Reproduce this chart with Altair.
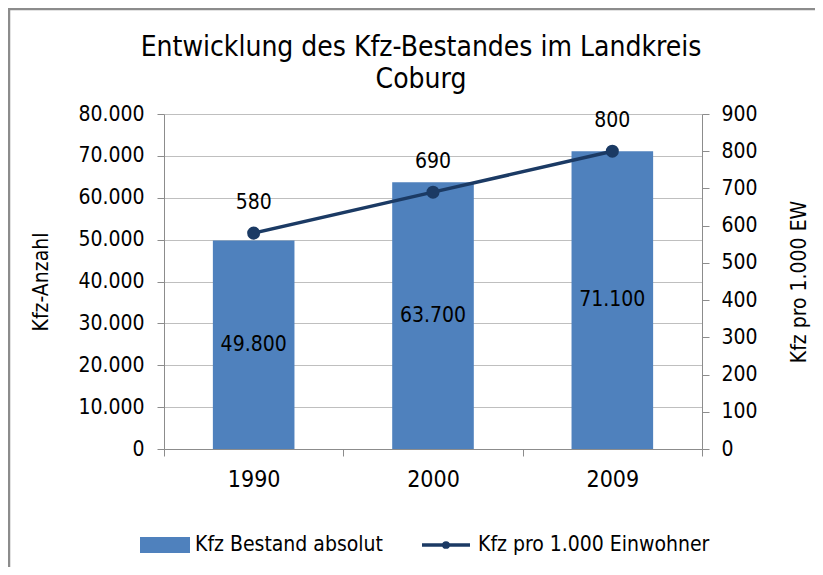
import altair as alt
import pandas as pd

years = ["1990", "2000", "2009"]
kfz_bestand = [49800, 63700, 71100]
kfz_pro_1000 = [580, 690, 800]
series_names = ["Kfz Bestand absolut", "Kfz pro 1.000 Einwohner"]
title_lines = ["Entwicklung des Kfz-Bestandes im Landkreis", "Coburg"]

FONT = "DejaVu Sans Condensed"
BAR = "#4F81BD"
LINE = "#1B3A64"
GRID = "#BFBFBF"
AXIS = "#8C8C8C"

df = pd.DataFrame({"year": years, "bestand": kfz_bestand, "pro": kfz_pro_1000})
df["mid"] = df["bestand"] / 2

x = alt.X("year:N", sort=years, title=None,
          scale=alt.Scale(paddingInner=0, paddingOuter=0),
          axis=alt.Axis(labelAngle=0, tickBand="extent", labelFontSize=23,
                        labelPadding=12, tickSize=7, domainColor=AXIS,
                        tickColor=AXIS, labelColor="#000", labelFont=FONT))

left_scale = alt.Scale(domain=[0, 80000])
left_axis = alt.Axis(values=list(range(0, 80001, 10000)),
                     labelExpr="replace(format(datum.value, ','), ',', '.')",
                     grid=True, gridColor=GRID, tickSize=7,
                     domainColor=AXIS, tickColor=AXIS,
                     labelFontSize=21, labelPadding=13, labelFont=FONT,
                     titleFont=FONT, titleFontSize=21, titleFontWeight="normal",
                     titlePadding=26, labelColor="#000", titleColor="#000")

bars = alt.Chart(df).mark_bar(color=BAR, width={"band": 0.455}).encode(
    x=x, y=alt.Y("bestand:Q", title="Kfz-Anzahl", scale=left_scale, axis=left_axis))

bar_labels = alt.Chart(df).transform_calculate(
    lab="replace(format(datum.bestand, ','), ',', '.')"
).mark_text(font=FONT, fontSize=21, color="#000").encode(
    x=x, y=alt.Y("mid:Q", title="Kfz-Anzahl", scale=left_scale, axis=left_axis), text="lab:N")

left = alt.layer(bars, bar_labels)

right_scale = alt.Scale(domain=[0, 900])
right_axis = alt.Axis(orient="right", values=list(range(0, 901, 100)),
                      grid=False, tickSize=7, domainColor=AXIS, tickColor=AXIS,
                      labelFontSize=21, labelPadding=12, labelFont=FONT,
                      titleFont=FONT, titleFontSize=21, titleFontWeight="normal",
                      titleAngle=270, titlePadding=52,
                      labelColor="#000", titleColor="#000")
y_right = alt.Y("pro:Q", title="Kfz  pro 1.000 EW", scale=right_scale, axis=right_axis)

line = alt.Chart(df).mark_line(color=LINE, strokeWidth=3.5,
                               point=alt.OverlayMarkDef(color=LINE, size=170, filled=True, opacity=1)
                               ).encode(x=x, y=y_right)
line_labels = alt.Chart(df).mark_text(font=FONT, fontSize=21, color="#000", dy=-30).encode(
    x=x, y=y_right, text="pro:N")

right = alt.layer(line, line_labels)

# decorations: legend, title, frame
leg = pd.DataFrame({"name": series_names})
first = alt.datum.name == series_names[0]
second = alt.datum.name == series_names[1]

leg_rect = alt.Chart(leg).transform_filter(first).mark_rect(color=BAR).encode(
    x=alt.value(-24), x2=alt.value(26), y=alt.value(423), y2=alt.value(439))
leg_t1 = alt.Chart(leg).transform_filter(first).mark_text(
    font=FONT, fontSize=21, align="left", baseline="middle", color="#000").encode(
    x=alt.value(31), y=alt.value(431), text="name:N")
leg_line = alt.Chart(leg).transform_filter(second).mark_rule(
    color=LINE, strokeWidth=3.5).encode(x=alt.value(258), x2=alt.value(306), y=alt.value(431))
leg_pt = alt.Chart(leg).transform_filter(second).mark_point(
    color=LINE, filled=True, size=60, opacity=1).encode(x=alt.value(282), y=alt.value(431))
leg_t2 = alt.Chart(leg).transform_filter(second).mark_text(
    font=FONT, fontSize=21, align="left", baseline="middle", color="#000").encode(
    x=alt.value(314), y=alt.value(431), text="name:N")

tdf = pd.DataFrame({"t": title_lines})
title1 = alt.Chart(tdf).transform_filter(alt.datum.t == title_lines[0]).mark_text(
    font=FONT, fontSize=28, color="#000", align="center", baseline="middle").encode(
    x=alt.value(257), y=alt.value(-66), text="t:N")
title2 = alt.Chart(tdf).transform_filter(alt.datum.t == title_lines[1]).mark_text(
    font=FONT, fontSize=28, color="#000", align="center", baseline="middle").encode(
    x=alt.value(257), y=alt.value(-34), text="t:N")

border = alt.Chart(leg).transform_filter(first).mark_rect(
    fill=None, stroke="#8C8C8C", strokeWidth=2.5).encode(
    x=alt.value(-155), x2=alt.value(700), y=alt.value(-105), y2=alt.value(500))

chart = alt.layer(left, right, leg_rect, leg_t1, leg_line, leg_pt, leg_t2,
                  title1, title2, border).resolve_scale(
    y="independent"
).properties(
    width=538, height=335,
    autosize=alt.AutoSizeParams(type="none"),
    padding={"left": 156, "top": 106, "right": 113, "bottom": 118},
).configure_view(stroke=None)

chart.save("out.html", embed_options={"renderer": "svg", "actions": False})
